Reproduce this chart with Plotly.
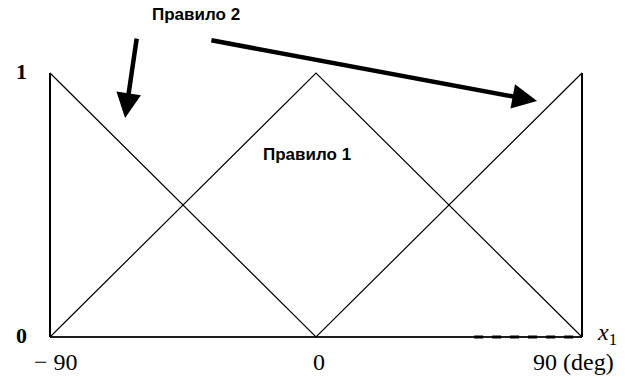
import plotly.graph_objects as go

# Universe of discourse for x1 (degrees) and membership grades
x_points = [-90, 0, 90]
mu_negative = [1, 0, 0]   # left shoulder: 1 at -90 falling to 0 at 0
mu_zero = [0, 1, 0]       # centre triangle peaking at 0
mu_positive = [0, 0, 1]   # right shoulder: 0 at 0 rising to 1 at 90

x_tick_labels = ["\u2212 90", "0", "90 (deg)"]
y_tick_labels = ["0", "1"]

fig = go.Figure()

line_style = dict(color="black", width=1.2)
for mu in (mu_negative, mu_zero, mu_positive):
    fig.add_trace(go.Scatter(x=x_points, y=mu, mode="lines", line=line_style,
                             hoverinfo="skip", showlegend=False))

# Frame: left/right boundaries and the x axis
fig.add_trace(go.Scatter(x=[x_points[0], x_points[0]], y=[0, 1], mode="lines",
                         line=dict(color="black", width=2), showlegend=False))
fig.add_trace(go.Scatter(x=[x_points[-1], x_points[-1]], y=[0, 1], mode="lines",
                         line=dict(color="black", width=2), showlegend=False))
fig.add_trace(go.Scatter(x=[x_points[0], x_points[-1]], y=[0, 0], mode="lines",
                         line=dict(color="black", width=1.5), showlegend=False))
fig.add_trace(go.Scatter(x=[53.5, 88.5], y=[0, 0], mode="lines",
                         line=dict(color="black", width=3, dash="dash"), showlegend=False))

serif = dict(family="Liberation Serif, Times New Roman, serif", size=24, color="black")
annotations = []
# x tick labels
for xv, lab in zip(x_points[:2], x_tick_labels[:2]):
    annotations.append(dict(x=xv, y=-0.095, text=lab, showarrow=False, font=serif,
                            xanchor="center", xshift=3 if xv == 0 else 6))
annotations.append(dict(x=x_points[2], y=-0.095, text=x_tick_labels[2], showarrow=False,
                        font=serif, xanchor="left", xshift=-51))
# y tick labels
for yv, lab in zip([0, 1], y_tick_labels):
    annotations.append(dict(x=-99.5, y=yv, text="<b>" + lab + "</b>", showarrow=False,
                            font=dict(family="Liberation Serif, Times New Roman, serif", size=22, color="black"),
                            yanchor="middle", yshift=2))
# axis name
annotations.append(dict(x=94.5, y=0.01, text="<i>x</i><sub>1</sub>", showarrow=False,
                        font=dict(family="Liberation Serif, Times New Roman, serif", size=24, color="black"),
                        xanchor="left"))

bold = dict(family="Liberation Sans, Arial, sans-serif", size=17, color="black")
annotations.append(dict(x=-40.5, y=1.22, text="<b>Правило 2</b>", showarrow=False, font=bold))
annotations.append(dict(x=-3, y=0.69, text="<b>Правило 1</b>", showarrow=False, font=bold))

# Pointer arrows
annotations.append(dict(x=-64.6, y=0.83, ax=-60.6, ay=1.136, xref="x", yref="y",
                        axref="x", ayref="y", text="", showarrow=True,
                        arrowhead=2, arrowsize=1.1, arrowwidth=4.5, arrowcolor="black"))
annotations.append(dict(x=74.8, y=0.894, ax=-35.9, ay=1.125, xref="x", yref="y",
                        axref="x", ayref="y", text="", showarrow=True,
                        arrowhead=2, arrowsize=1.1, arrowwidth=4.5, arrowcolor="black"))

fig.update_layout(
    width=625, height=378,
    margin=dict(l=0, r=0, t=0, b=0),
    paper_bgcolor="white", plot_bgcolor="white",
    xaxis=dict(range=[-106.92, 104.55], visible=False, fixedrange=True),
    yaxis=dict(range=[-0.1553, 1.2765], visible=False, fixedrange=True),
    annotations=annotations,
    showlegend=False,
)

fig.write_html("out.html")
